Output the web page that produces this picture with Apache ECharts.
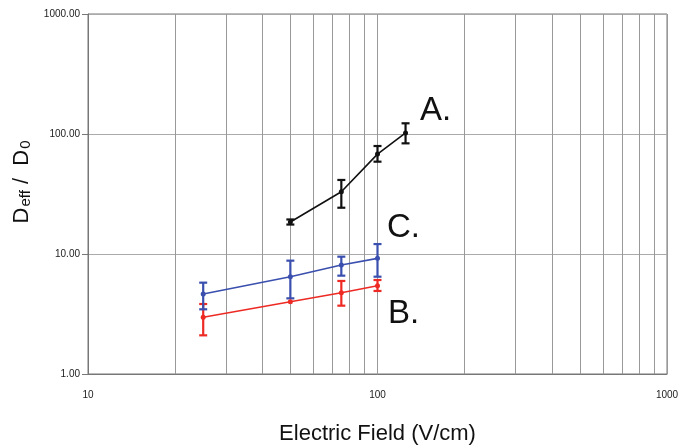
<!DOCTYPE html>
<html>
<head>
<meta charset="utf-8">
<script src="https://cdn.jsdelivr.net/npm/echarts@6/dist/echarts.min.js"></script>
<style>
html,body{margin:0;padding:0;background:#fff;}
#main{width:679px;height:445px;}
</style>
</head>
<body>
<div id="main"></div>
<script>
// 数据
var fieldA = [50, 75, 100, 125];
var valA = [18.5, 33, 68, 102];
var lowA = [17.6, 24.3, 58.8, 83.6];
var highA = [19.4, 41.4, 79.4, 122.8];

var fieldB = [25, 50, 75, 100];
var valB = [2.97, 4.0, 4.76, 5.44];
var lowB = [2.1, null, 3.71, 4.92];
var highB = [3.83, null, 5.96, 6.07];

var fieldC = [25, 50, 75, 100];
var valC = [4.64, 6.47, 8.1, 9.2];
var lowC = [3.46, 4.27, 6.6, 6.47];
var highC = [5.77, 8.8, 9.5, 12.1];

var minorX = [20, 30, 40, 50, 60, 70, 80, 90, 200, 300, 400, 500, 600, 700, 800, 900];

function pairs(xs, ys){
	var out = []
	for (var i = 0; i < xs.length; i++) out.push([xs[i], ys[i]])
	return out
}
function errData(xs, lo, hi){
	var out = []
	for (var i = 0; i < xs.length; i++){
		if (lo[i] != null) out.push([xs[i], lo[i], hi[i]])
	}
	return out
}
function errSeries(name, data, color){
	return {
		name: name,
		type: 'custom',
		silent: true,
		z: 5,
		data: data,
		encode: {x: 0, y: [1, 2]},
		renderItem: function(params, api){
			var x = api.value(0)
			var lo = api.coord([x, api.value(1)])
			var hi = api.coord([x, api.value(2)])
			var w = 4
			var st = {stroke: color, lineWidth: 2.2}
			return {
				type: 'group',
				children: [
					{type: 'line', shape: {x1: lo[0], y1: lo[1], x2: hi[0], y2: hi[1]}, style: st},
					{type: 'line', shape: {x1: lo[0]-w, y1: lo[1], x2: lo[0]+w, y2: lo[1]}, style: st},
					{type: 'line', shape: {x1: hi[0]-w, y1: hi[1], x2: hi[0]+w, y2: hi[1]}, style: st}
				]
			}
		}
	}
}
function lineSeries(name, data, color, offset){
	return {
		name: name,
		type: 'line',
		data: data,
		symbol: 'circle',
		symbolSize: 5,
		z: 6,
		itemStyle: {color: color},
		lineStyle: {color: color, width: 1.6},
		label: {
			show: true,
			formatter: function(p){ return p.dataIndex === data.length - 1 ? name : '' },
			position: 'inside',
			offset: offset,
			fontSize: 33,
			fontFamily: 'Liberation Sans, Arial, sans-serif',
			color: '#111'
		}
	}
}

var chart = echarts.init(document.getElementById('main'))
var lblFont = 'Liberation Sans Narrow, Liberation Sans, Arial, sans-serif'
var option = {
	animation: false,
	grid: {left: 88, right: 12, top: 14, bottom: 71, outerBoundsMode: 'none', show: true, borderColor: '#777', borderWidth: 1},
	xAxis: {
		type: 'log',
		logBase: 10,
		min: 10,
		max: 1000,
		name: 'Electric Field (V/cm)',
		nameLocation: 'middle',
		nameGap: 49,
		nameTextStyle: {fontSize: 22, color: '#111', fontFamily: 'Liberation Sans, Arial, sans-serif'},
		axisLine: {show: true, lineStyle: {color: '#777'}},
		axisTick: {show: false},
		axisLabel: {margin: 16, fontSize: 10, color: '#222', fontFamily: lblFont,
			formatter: function(v){ return String(Math.round(v)) }},
		splitLine: {show: true, lineStyle: {color: '#999', width: 1}}
	},
	yAxis: {
		type: 'log',
		logBase: 10,
		min: 1,
		max: 1000,
		name: '{d|D}{s|eff}{d| /  D}{s|0}',
		nameLocation: 'middle',
		nameGap: 52,
		nameTextStyle: {
			color: '#111',
			padding: [0, 0, 0, 24],
			rich: {
				d: {fontSize: 22, fontFamily: 'Liberation Sans, Arial, sans-serif', color: '#111'},
				s: {fontSize: 15, fontFamily: 'Liberation Sans, Arial, sans-serif', color: '#111', verticalAlign: 'bottom', padding: [8, 0, 0, 1]}
			}
		},
		axisLine: {show: true, lineStyle: {color: '#777'}},
		axisTick: {show: true, length: 6, lineStyle: {color: '#777'}},
		axisLabel: {
			margin: 8, fontSize: 10, color: '#222', fontFamily: lblFont,
			formatter: function(v){ return v.toFixed(2) }
		},
		splitLine: {show: true, lineStyle: {color: '#aaa', width: 1}}
	},
	series: [
		{
			type: 'line',
			data: [],
			silent: true,
			z: 1,
			markLine: {
				silent: true,
				z: 1,
				symbol: 'none',
				label: {show: false},
				lineStyle: {color: '#999', type: 'solid', width: 1},
				data: minorX.map(function(v){ return {xAxis: v} })
			}
		},
		errSeries('errA', errData(fieldA, lowA, highA), '#111'),
		errSeries('errB', errData(fieldB, lowB, highB), '#ee2a24'),
		errSeries('errC', errData(fieldC, lowC, highC), '#3a4fae'),
		lineSeries('A.', pairs(fieldA, valA), '#111', [30, -22]),
		lineSeries('B.', pairs(fieldB, valB), '#ee2a24', [26, 28]),
		lineSeries('C.', pairs(fieldC, valC), '#3a4fae', [26, -30])
	]
}
chart.setOption(option)
</script>
</body>
</html>
